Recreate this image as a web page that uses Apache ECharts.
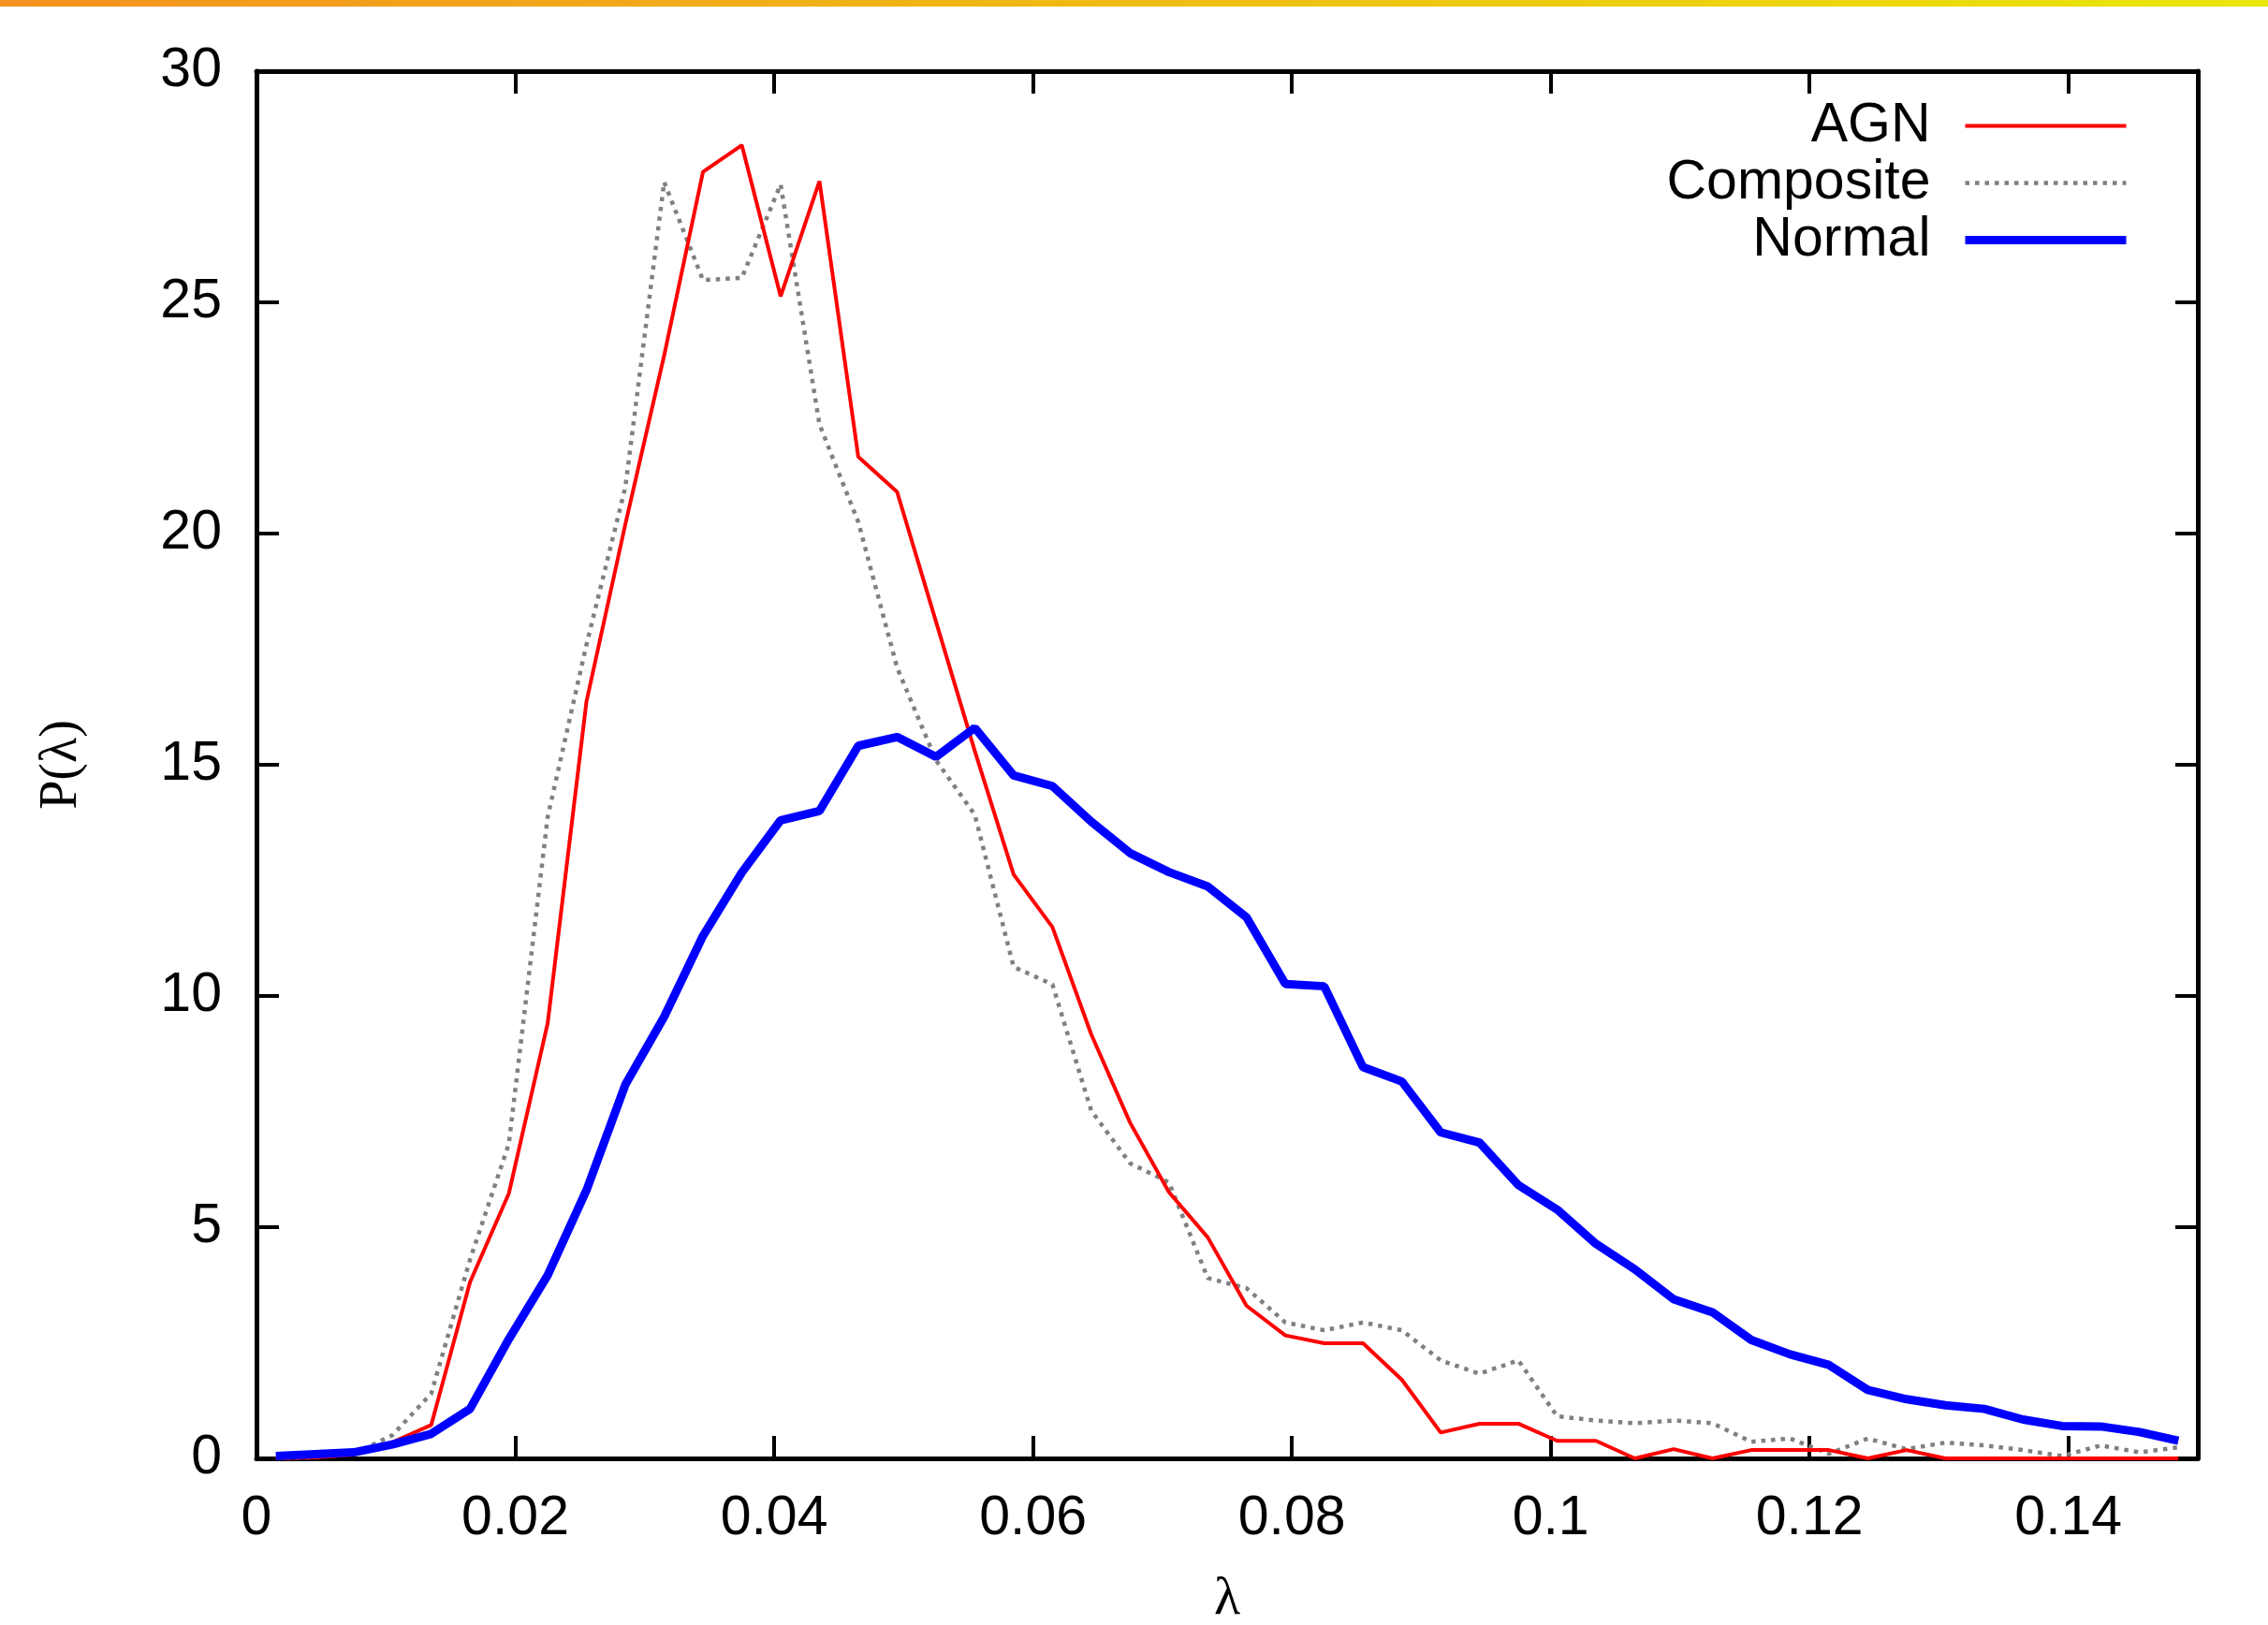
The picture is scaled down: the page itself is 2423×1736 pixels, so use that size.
<!DOCTYPE html>
<html>
<head>
<meta charset="utf-8">
<script src="https://cdn.jsdelivr.net/npm/echarts@6/dist/echarts.min.js"></script>
<style>
html,body{margin:0;padding:0;background:#fff;}
#chart{width:2423px;height:1736px;}
</style>
</head>
<body>
<div id="chart"></div>
<script>
// lambda values (bin centres)
const lambda = [0.0015,0.0045,0.0075,0.0105,0.0135,0.0165,0.0195,0.0225,0.0255,0.0285,
0.0315,0.0345,0.0375,0.0405,0.0435,0.0465,0.0495,0.0525,0.0555,0.0585,
0.0615,0.0645,0.0675,0.0705,0.0735,0.0765,0.0795,0.0825,0.0855,0.0885,
0.0915,0.0945,0.0975,0.1005,0.1035,0.1065,0.1095,0.1125,0.1155,0.1185,
0.1215,0.1245,0.1275,0.1305,0.1335,0.1365,0.1395,0.1425,0.1455,0.1485];

const agn = [0,0.02,0.08,0.35,0.72,3.81,5.73,9.41,16.37,20.2,
23.85,27.82,28.4,25.13,27.62,21.66,20.9,18.1,15.3,12.63,
11.49,9.17,7.26,5.76,4.78,3.3,2.66,2.49,2.49,1.7,
0.56,0.75,0.75,0.38,0.38,0,0.2,0,0.18,0.18,
0.18,0,0.18,0,0,0,0,0,0,0];

const composite = [0,0.02,0.1,0.5,1.4,4.3,6.8,13.87,17.6,21.0,
27.6,25.48,25.53,27.55,22.36,20.25,17.1,15.1,13.92,10.63,
10.25,7.52,6.38,5.97,3.9,3.68,2.94,2.77,2.94,2.77,
2.12,1.83,2.12,0.91,0.82,0.76,0.82,0.76,0.36,0.43,
0.1,0.43,0.2,0.34,0.28,0.18,0.05,0.28,0.13,0.24];

const normal = [0.05,0.09,0.13,0.3,0.53,1.07,2.58,3.96,5.8,8.08,
9.55,11.3,12.67,13.8,14.0,15.41,15.6,15.17,15.8,14.77,
14.54,13.77,13.09,12.68,12.37,11.7,10.26,10.21,8.46,8.15,
7.05,6.83,5.91,5.38,4.64,4.09,3.44,3.16,2.56,2.25,
2.02,1.48,1.28,1.15,1.07,0.84,0.70,0.69,0.57,0.38];

const seriesNames = ['AGN','Composite','Normal'];
const xTitle = 'λ';
const yTitle = 'P(λ)';

function pairs(ys){ return lambda.map((x,i)=>[x, ys[i]]); }

const chart = echarts.init(document.getElementById('chart'), null, {renderer:'canvas'});
const sans = 'Liberation Sans, Arial, Helvetica, sans-serif';
const serif = 'Liberation Serif, Times New Roman, serif';
const axisCommon = {
  min: 0,
  axisLine: {show: true, onZero: false, lineStyle: {color: '#000', width: 5}},
  axisTick: {show: true, inside: true, length: 24, lineStyle: {color: '#000', width: 4}},
  splitLine: {show: false}
};

chart.setOption({
  animation: false,
  backgroundColor: '#fff',
  graphic: [{
    type: 'rect', left: 0, top: 0, z: 100,
    shape: {width: 2423, height: 7},
    style: {fill: new echarts.graphic.LinearGradient(0,0,1,0,[
      {offset:0,color:'#f4921f'},{offset:1,color:'#eae60a'}])}
  }],
  grid: {left: 274, right: 75, top: 76, bottom: 178, containLabel: false, outerBoundsMode: 'none'},
  legend: {
    orient: 'vertical', align: 'right', right: 142, top: 99,
    itemWidth: 172, itemHeight: 2, itemGap: 0,
    data: seriesNames,
    lineStyle: {width: 'inherit'},
    textStyle: {fontFamily: sans, fontSize: 59, color: '#000', lineHeight: 61, padding: [0, 32, 0, 0]},
    selectedMode: false
  },
  xAxis: [
    Object.assign({}, axisCommon, {
      type: 'value', position: 'bottom', max: 0.15, interval: 0.02,
      name: xTitle, nameLocation: 'middle', nameGap: 122,
      nameTextStyle: {fontFamily: serif, fontSize: 58, color: '#000'},
      axisLabel: {show: true, margin: 35, showMaxLabel: false, fontFamily: sans, fontSize: 59, color: '#000'}
    }),
    Object.assign({}, axisCommon, {
      type: 'value', position: 'top', max: 0.15, interval: 0.02,
      axisLabel: {show: false}
    })
  ],
  yAxis: [
    Object.assign({}, axisCommon, {
      type: 'value', position: 'left', max: 30, interval: 5,
      name: yTitle, nameLocation: 'middle', nameGap: 180, nameRotate: 90,
      nameTextStyle: {fontFamily: serif, fontSize: 56, color: '#000'},
      axisLabel: {show: true, margin: 37, fontFamily: sans, fontSize: 59, color: '#000'}
    }),
    Object.assign({}, axisCommon, {
      type: 'value', position: 'right', max: 30, interval: 5,
      axisLabel: {show: false}
    })
  ],
  series: [
    {name: seriesNames[0], type: 'line', data: pairs(agn), symbol: 'none', showSymbol: false,
     lineStyle: {color: '#ff0000', width: 4}, itemStyle: {color: '#ff0000'}, z: 3},
    {name: seriesNames[1], type: 'line', data: pairs(composite), symbol: 'none', showSymbol: false,
     lineStyle: {color: '#808080', width: 4.5, type: [4.5, 6], cap: 'butt'}, itemStyle: {color: '#808080'}, z: 2},
    {name: seriesNames[2], type: 'line', data: pairs(normal), symbol: 'none', showSymbol: false,
     lineStyle: {color: '#0000ff', width: 9}, itemStyle: {color: '#0000ff'}, z: 4}
  ]
});
</script>
</body>
</html>
